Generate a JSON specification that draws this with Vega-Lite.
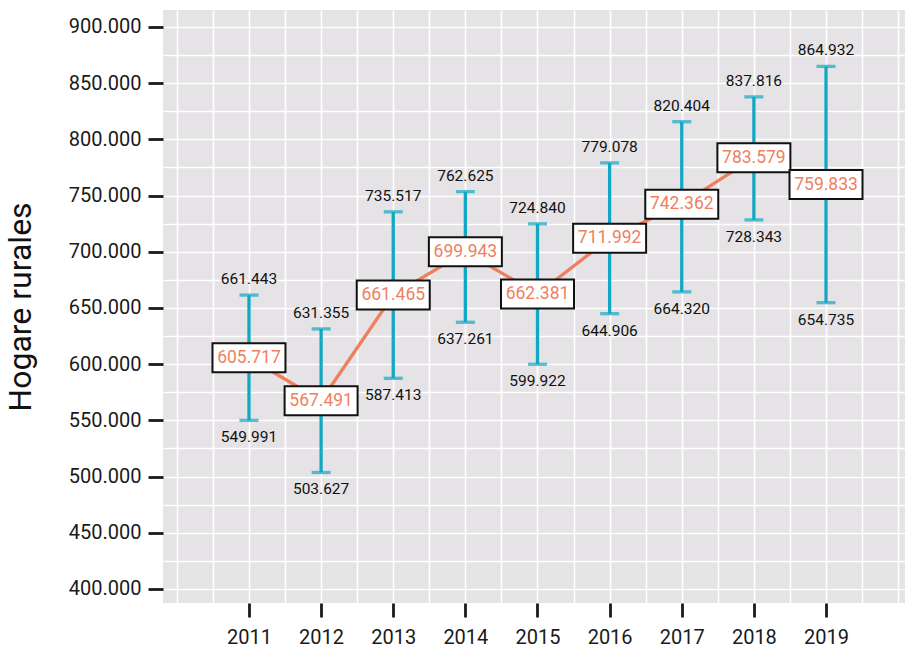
{
  "$schema": "https://vega.github.io/schema/vega-lite/v6.json",
  "width": 742,
  "height": 593,
  "autosize": "none",
  "padding": {"left": 163, "top": 10, "right": 1, "bottom": 46},
  "background": "white",
  "config": {"view": {"fill": "#e5e3e5", "stroke": null}, "font": "Roboto"},
  "data": {
    "values": [
      {"year": 2011, "mean": 605717, "lo": 549991, "hi": 661443, "mean_txt": "605.717", "lo_txt": "549.991", "hi_txt": "661.443"},
      {"year": 2012, "mean": 567491, "lo": 503627, "hi": 631355, "mean_txt": "567.491", "lo_txt": "503.627", "hi_txt": "631.355"},
      {"year": 2013, "mean": 661465, "lo": 587413, "hi": 735517, "mean_txt": "661.465", "lo_txt": "587.413", "hi_txt": "735.517"},
      {"year": 2014, "mean": 699943, "lo": 637261, "hi": 753500, "mean_txt": "699.943", "lo_txt": "637.261", "hi_txt": "762.625"},
      {"year": 2015, "mean": 662381, "lo": 599922, "hi": 724840, "mean_txt": "662.381", "lo_txt": "599.922", "hi_txt": "724.840"},
      {"year": 2016, "mean": 711992, "lo": 644906, "hi": 779078, "mean_txt": "711.992", "lo_txt": "644.906", "hi_txt": "779.078"},
      {"year": 2017, "mean": 742362, "lo": 664320, "hi": 815700, "mean_txt": "742.362", "lo_txt": "664.320", "hi_txt": "820.404"},
      {"year": 2018, "mean": 783579, "lo": 728343, "hi": 837816, "mean_txt": "783.579", "lo_txt": "728.343", "hi_txt": "837.816"},
      {"year": 2019, "mean": 759833, "lo": 654735, "hi": 864932, "mean_txt": "759.833", "lo_txt": "654.735", "hi_txt": "864.932"}
    ]
  },
  "resolve": {"axis": {"x": "independent", "y": "independent"}},
  "layer": [
    {
      "mark": {"type": "rule", "color": "#12a8c4", "strokeWidth": 3.3},
      "encoding": {
        "x": {"field": "year", "type": "quantitative",
              "scale": {"domain": [2009.808, 2020.095], "nice": false, "zero": false},
              "axis": {"orient": "bottom", "values": [2010, 2010.5, 2011, 2011.5, 2012, 2012.5, 2013, 2013.5, 2014, 2014.5, 2015, 2015.5, 2016, 2016.5, 2017, 2017.5, 2018, 2018.5, 2019, 2019.5, 2020],
                       "grid": true, "gridColor": "white", "gridWidth": 1.6, "labels": false, "ticks": false, "domain": false, "title": null}},
        "y": {"field": "lo", "type": "quantitative",
              "scale": {"domain": [387500, 915100], "nice": false, "zero": false},
              "axis": {"orient": "left", "values": [400000, 425000, 450000, 475000, 500000, 525000, 550000, 575000, 600000, 625000, 650000, 675000, 700000, 725000, 750000, 775000, 800000, 825000, 850000, 875000, 900000],
                       "grid": true, "gridColor": "white", "gridWidth": 1.6, "labels": false, "ticks": false, "domain": false, "title": null}},
        "y2": {"field": "hi"}
      }
    },
    {
      "mark": {"type": "tick", "orient": "horizontal", "color": "#12a8c4", "size": 19, "thickness": 3.3},
      "encoding": {
        "x": {"field": "year", "type": "quantitative",
              "axis": {"orient": "bottom", "values": [2011, 2012, 2013, 2014, 2015, 2016, 2017, 2018, 2019], "format": "d",
                       "grid": false, "domain": false, "title": null,
                       "labelFontSize": 20, "labelColor": "#1a1a1a", "tickColor": "#1a1a1a", "tickSize": 14, "tickWidth": 2.8, "labelPadding": 10}},
        "y": {"field": "hi", "type": "quantitative",
              "axis": {"orient": "left", "values": [400000, 450000, 500000, 550000, 600000, 650000, 700000, 750000, 800000, 850000, 900000],
                       "labelExpr": "replace(format(datum.value, ',.0f'), ',', '.')",
                       "grid": false, "domain": false,
                       "labelFontSize": 20, "labelColor": "#1a1a1a", "tickColor": "#1a1a1a", "tickSize": 15, "tickWidth": 2.8, "labelPadding": 7,
                       "title": "Hogare rurales", "titleFontSize": 32, "titleFontWeight": "normal", "titleColor": "#111111", "titlePadding": 31}}
      }
    },
    {
      "mark": {"type": "tick", "orient": "horizontal", "color": "#12a8c4", "size": 19, "thickness": 3.3},
      "encoding": {
        "x": {"field": "year", "type": "quantitative", "axis": null},
        "y": {"field": "lo", "type": "quantitative", "axis": null}
      }
    },
    {
      "mark": {"type": "line", "color": "#f07f5f", "strokeWidth": 3.3},
      "encoding": {
        "x": {"field": "year", "type": "quantitative", "axis": null},
        "y": {"field": "mean", "type": "quantitative", "axis": null}
      }
    },
    {
      "mark": {"type": "point", "shape": "M-1,-0.397L1,-0.397L1,0.397L-1,0.397Z", "size": 5329, "filled": true, "fill": "white", "stroke": "#111111", "strokeWidth": 2, "opacity": 1},
      "encoding": {
        "x": {"field": "year", "type": "quantitative", "axis": null},
        "y": {"field": "mean", "type": "quantitative", "axis": null}
      }
    },
    {
      "mark": {"type": "text", "color": "#f07f5f", "fontSize": 17.5, "baseline": "middle", "align": "center"},
      "encoding": {
        "x": {"field": "year", "type": "quantitative", "axis": null},
        "y": {"field": "mean", "type": "quantitative", "axis": null},
        "text": {"field": "mean_txt"}
      }
    },
    {
      "mark": {"type": "text", "color": "#111111", "fontSize": 15.5, "baseline": "middle", "align": "center", "dy": -16},
      "encoding": {
        "x": {"field": "year", "type": "quantitative", "axis": null},
        "y": {"field": "hi", "type": "quantitative", "axis": null},
        "text": {"field": "hi_txt"}
      }
    },
    {
      "mark": {"type": "text", "color": "#111111", "fontSize": 15.5, "baseline": "middle", "align": "center", "dy": 17},
      "encoding": {
        "x": {"field": "year", "type": "quantitative", "axis": null},
        "y": {"field": "lo", "type": "quantitative", "axis": null},
        "text": {"field": "lo_txt"}
      }
    }
  ]
}
